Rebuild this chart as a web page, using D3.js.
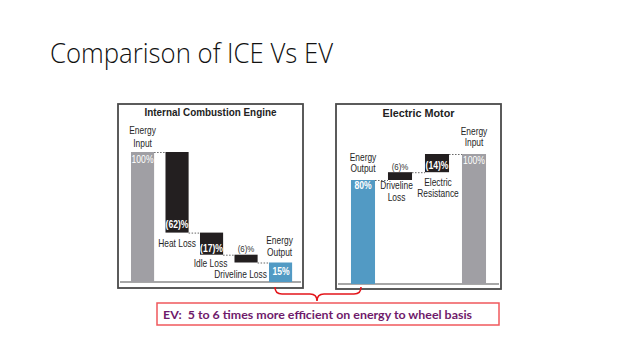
<!DOCTYPE html>
<html><head><meta charset="utf-8">
<script src="https://cdn.jsdelivr.net/npm/d3@7/dist/d3.min.js"></script>
<style>body{margin:0;background:#fff}svg{display:block}</style>
</head><body>
<svg id="c" width="640" height="360"></svg>
<script>
const title = "Comparison of ICE Vs EV";
const iceTitle = "Internal Combustion Engine";
const iceLabels = ["Energy Input", "Heat Loss", "Idle Loss", "Driveline Loss", "Energy Output"];
const iceValues = [100, -62, -17, -6, 15];
const iceTypes = ["total", "loss", "loss", "loss", "output"];
const evTitle = "Electric Motor";
const evLabels = ["Energy Output", "Driveline Loss", "Electric Resistance", "Energy Input"];
const evValues = [80, 6, 14, 100];
const evTypes = ["output", "loss", "loss", "total"];
const note = "EV:  5 to 6 times more efficient on energy to wheel basis";

const COL = {total: "#a09fa4", loss: "#231f20", output: "#529ac4"};
const svg = d3.select("#c");
const SANS = "'Liberation Sans', Arial, sans-serif";

// main title
const t = svg.append("text").attr("x", 50).attr("y", 63).text(title)
  .attr("font-family", "'Open Sans', sans-serif").attr("font-weight", 300)
  .attr("font-size", 27).attr("fill", "#111");
const tl = t.node().getComputedTextLength();
if (Math.abs(tl - 283) > 4) t.attr("textLength", 283).attr("lengthAdjust", "spacingAndGlyphs");

function fmt(v, type) { return type === "loss" ? "(" + Math.abs(v) + ")%" : v + "%"; }

// label text (condensed sans via horizontal scale)
function txt(g, xx, yy, s, opt = {}) {
  const lines = Array.isArray(s) ? s : [s];
  const f = opt.cond || 0.8;
  lines.forEach((l, i) => {
    g.append("g").attr("transform", `translate(${xx},${yy + i * (opt.lh || 12)}) scale(${f},1)`)
      .append("text").attr("x", 0).attr("y", 0)
      .attr("text-anchor", "middle")
      .attr("font-family", SANS).attr("font-size", opt.size || 10.5)
      .attr("fill", opt.fill || "#262626").attr("font-weight", opt.weight || "normal").text(l);
  });
}
// value text
function val(g, xx, yy, s, opt = {}) {
  txt(g, xx, yy, s, Object.assign({size: 10, cond: 0.86, fill: "#fff"}, opt));
}

function panel(cfg) {
  const g = svg.append("g");
  g.append("rect").attr("x", cfg.box[0]).attr("y", cfg.box[1])
    .attr("width", cfg.box[2] - cfg.box[0]).attr("height", cfg.box[3] - cfg.box[1])
    .attr("fill", "#fff").attr("stroke", "#4a4a4a").attr("stroke-width", 1.8);
  g.append("text").attr("x", (cfg.box[0] + cfg.box[2]) / 2).attr("y", cfg.titleY)
    .attr("text-anchor", "middle").attr("font-family", SANS).attr("font-weight", "bold")
    .attr("font-size", 11.5).attr("fill", "#222").text(cfg.title)
    .attr("textLength", cfg.titleW).attr("lengthAdjust", "spacingAndGlyphs");

  const x = d3.scaleBand().domain(cfg.labels).range(cfg.xr).paddingInner(cfg.pad).paddingOuter(cfg.pad / 2);
  const y = d3.scaleLinear().domain([0, 100]).range(cfg.yr);

  const segs = [];
  let cur = 0;
  cfg.values.forEach((v, i) => {
    const type = cfg.types[i];
    let lo, hi;
    if (type === "total" || type === "output") { lo = 0; hi = Math.abs(v); cur = hi; }
    else if (v < 0) { hi = cur; lo = cur + v; cur = lo; }
    else { lo = cur; hi = cur + v; cur = hi; }
    segs.push({label: cfg.labels[i], v, type, lo, hi});
  });

  g.append("line").attr("x1", cfg.box[0] + 2).attr("x2", cfg.box[2] - 2)
    .attr("y1", y(0)).attr("y2", y(0)).attr("stroke", "#8a8a8a").attr("stroke-width", 1.5);

  for (let i = 0; i < segs.length - 1; i++) {
    const a = segs[i], b = segs[i + 1];
    const lvl = cfg.dir === "down" ? b.hi : a.hi;
    g.append("line").attr("x1", x(a.label) + x.bandwidth()).attr("x2", x(b.label))
      .attr("y1", y(lvl) + 0.5).attr("y2", y(lvl) + 0.5)
      .attr("stroke", "#666").attr("stroke-width", 1).attr("stroke-dasharray", "1.5,1.5");
  }

  g.selectAll("rect.bar").data(segs).join("rect").attr("class", "bar")
    .attr("x", d => x(d.label)).attr("width", x.bandwidth())
    .attr("y", d => y(d.hi)).attr("height", d => y(d.lo) - y(d.hi))
    .attr("fill", d => COL[d.type]);

  cfg.annot(g, segs, x, y);
}

panel({
  box: [118, 104, 303, 288], titleY: 116, title: iceTitle, titleW: 132,
  labels: iceLabels, values: iceValues, types: iceTypes, dir: "down",
  xr: [125.3, 297.8], pad: 0.33, yr: [282, 152],
  annot(g, s, x, y) {
    const c = d => x(d.label) + x.bandwidth() / 2;
    txt(g, c(s[0]), 133.5, ["Energy", "Input"], {lh: 13});
    val(g, c(s[0]), y(s[0].hi) + 11, fmt(s[0].v, s[0].type));
    val(g, c(s[1]), y(s[1].lo) - 4.5, fmt(s[1].v, s[1].type), {weight: "bold"});
    txt(g, c(s[1]), y(s[1].lo) + 14, "Heat Loss");
    val(g, c(s[2]), y(s[2].lo) - 2.5, fmt(s[2].v, s[2].type), {weight: "bold"});
    txt(g, c(s[2]) - 1, y(s[2].lo) + 12, "Idle Loss");
    val(g, c(s[3]), y(s[3].hi) - 3, fmt(s[3].v, s[3].type), {size: 9, cond: 0.88, fill: "#333"});
    txt(g, c(s[3]) - 5.5, y(s[3].lo) + 15, "Driveline Loss");
    txt(g, c(s[4]) - 1, y(s[4].hi) - 18.5, ["Energy", "Output"]);
    val(g, c(s[4]) + 0.5, y(s[4].hi) + 12.5, fmt(s[4].v, s[4].type), {weight: "bold"});
  }
});

panel({
  box: [336, 104, 501, 289], titleY: 117, title: evTitle, titleW: 72,
  labels: evLabels, values: evValues, types: evTypes, dir: "up",
  xr: [344.5, 492.5], pad: 0.35, yr: [284, 154],
  annot(g, s, x, y) {
    const c = d => x(d.label) + x.bandwidth() / 2;
    txt(g, c(s[0]), y(s[0].hi) - 19.5, ["Energy", "Output"], {lh: 11});
    val(g, c(s[0]), y(s[0].hi) + 9, fmt(s[0].v, s[0].type), {weight: "bold"});
    val(g, c(s[1]), y(s[1].hi) - 2.5, fmt(s[1].v, s[1].type), {size: 9, cond: 0.88, fill: "#333"});
    txt(g, c(s[1]) - 3.5, y(s[1].lo) + 9, ["Driveline", "Loss"]);
    val(g, c(s[2]), y(s[2].lo) - 3, fmt(s[2].v, s[2].type), {weight: "bold"});
    txt(g, c(s[2]) + 1, y(s[2].lo) + 13.5, ["Electric", "Resistance"], {lh: 11});
    txt(g, c(s[3]), 134.5, ["Energy", "Input"], {lh: 11.5});
    val(g, c(s[3]), y(s[3].hi) + 9.5, fmt(s[3].v, s[3].type));
  }
});

// brace
svg.append("path")
  .attr("d", "M275,287 Q275,294 282,294 L310,294 Q317,294 317,301 Q317,294 324,294 L354,294 Q361,294 361,287")
  .attr("fill", "none").attr("stroke", "#e3161b").attr("stroke-width", 1.6);

// note box
svg.append("rect").attr("x", 157).attr("y", 303).attr("width", 342).attr("height", 22)
  .attr("fill", "#fff").attr("stroke", "#f0585c").attr("stroke-width", 1.5);
const nt = svg.append("text").attr("x", 163).attr("y", 318.5).text(note)
  .attr("font-family", "Lato, sans-serif").attr("font-weight", "bold").attr("font-size", 12)
  .attr("fill", "#6f1a6b").style("white-space", "pre");
const nl = nt.node().getComputedTextLength();
if (Math.abs(nl - 309) > 4) nt.attr("textLength", 309).attr("lengthAdjust", "spacingAndGlyphs");
</script>
</body></html>
